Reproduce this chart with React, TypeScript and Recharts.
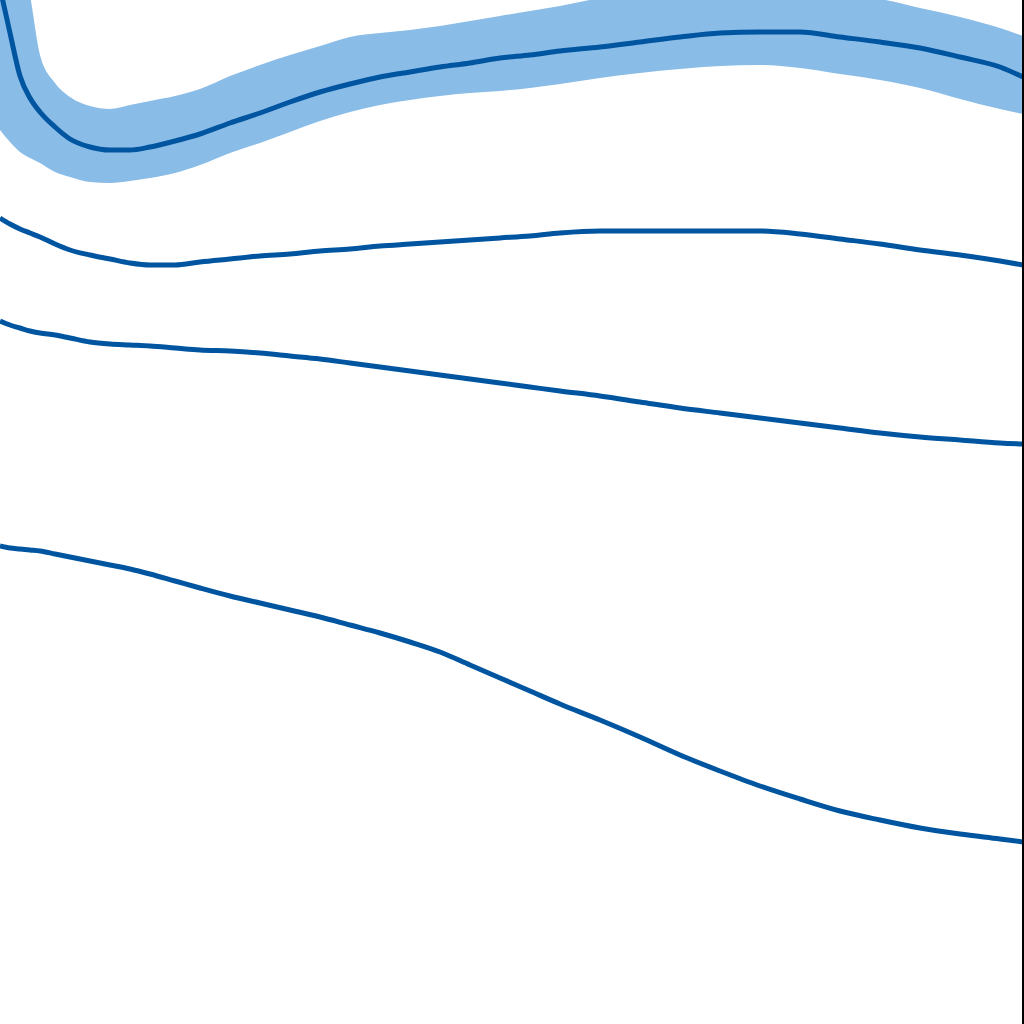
import {
  Area,
  ComposedChart,
  Line,
  ReferenceLine,
  XAxis,
  YAxis,
} from "recharts";

// x positions shared by every series
const position = [
  0, 10, 20, 30, 40, 55, 70, 90, 110, 130, 150, 175, 200, 230, 260, 290, 320,
  350, 380, 410, 440, 470, 500, 530, 560, 600, 640, 680, 720, 760, 800, 840,
  880, 920, 960, 1000, 1023,
];

// top curve with its band (depth-style scale: small = high on the chart)
const fitMean = [
  -12, 33, 76, 98, 112, 127, 139, 147, 150, 150, 147, 141, 134, 123, 113, 102,
  92, 84, 77, 72, 67, 63, 58, 55, 51, 47, 42, 37, 33, 32, 32, 37, 42, 48, 57,
  67, 77,
];
const fitUpper = [
  -160, -110, -55, -5, 55, 83, 97, 106, 109, 105, 101, 96, 89, 76, 65, 55, 46,
  37, 33, 30, 26, 21, 16, 11, 6, -2, -8, -12, -14, -14, -10, -5, -1, 8, 17, 28,
  36,
];
const fitLower = [
  130, 142, 152, 158, 163, 172, 177, 182, 183, 181, 178, 173, 165, 153, 143,
  132, 121, 112, 105, 100, 96, 93, 91, 88, 84, 78, 73, 69, 66, 65, 68, 74, 80,
  88, 99, 109, 114,
];

const seriesB = [
  218, 224, 229, 233, 237, 244, 250, 255, 259, 263, 265, 265, 262, 259, 256,
  254, 251, 249, 246, 244, 242, 240, 238, 236, 233, 231, 231, 231, 231, 231,
  234, 239, 244, 250, 255, 261, 265,
];

const seriesC = [
  321, 325, 328, 331, 333, 335, 338, 342, 344, 345, 346, 348, 350, 351, 353,
  356, 359, 363, 367, 371, 375, 379, 383, 387, 391, 396, 402, 408, 413, 418,
  423, 428, 433, 437, 440, 443, 444,
];

const seriesD = [
  546, 548, 549, 550, 551, 554, 557, 561, 565, 569, 574, 581, 588, 596, 603,
  610, 617, 625, 633, 642, 652, 665, 678, 691, 704, 720, 737, 755, 771, 786,
  799, 811, 820, 828, 834, 839, 842,
];

const chartData = position.map((x, i) => ({
  x,
  mean: fitMean[i],
  band: [fitLower[i], fitUpper[i]],
  b: seriesB[i],
  c: seriesC[i],
  d: seriesD[i],
}));

const DARK = "#0055a0";
const LIGHT = "#8abce8";

export default function App() {
  return (
    <div style={{ position: "absolute", left: 0, top: 0, background: "#fff" }}>
      <ComposedChart
        width={1024}
        height={1024}
        data={chartData}
        margin={{ top: 0, right: 1, left: 0, bottom: 0 }}
      >
        <XAxis dataKey="x" type="number" domain={[0, 1023]} hide />
        <YAxis
          type="number"
          domain={[0, 1024]}
          reversed
          allowDataOverflow
          hide
        />
        <Area
          type="monotone"
          dataKey="band"
          stroke="none"
          fill={LIGHT}
          fillOpacity={1}
          dot={false}
          activeDot={false}
          isAnimationActive={false}
        />
        {["mean", "b", "c", "d"].map((key) => (
          <Line
            key={key}
            type="monotone"
            dataKey={key}
            stroke={DARK}
            strokeWidth={5}
            dot={false}
            activeDot={false}
            isAnimationActive={false}
          />
        ))}
        <ReferenceLine x={1023} stroke="#000" strokeWidth={2} />
      </ComposedChart>
    </div>
  );
}
